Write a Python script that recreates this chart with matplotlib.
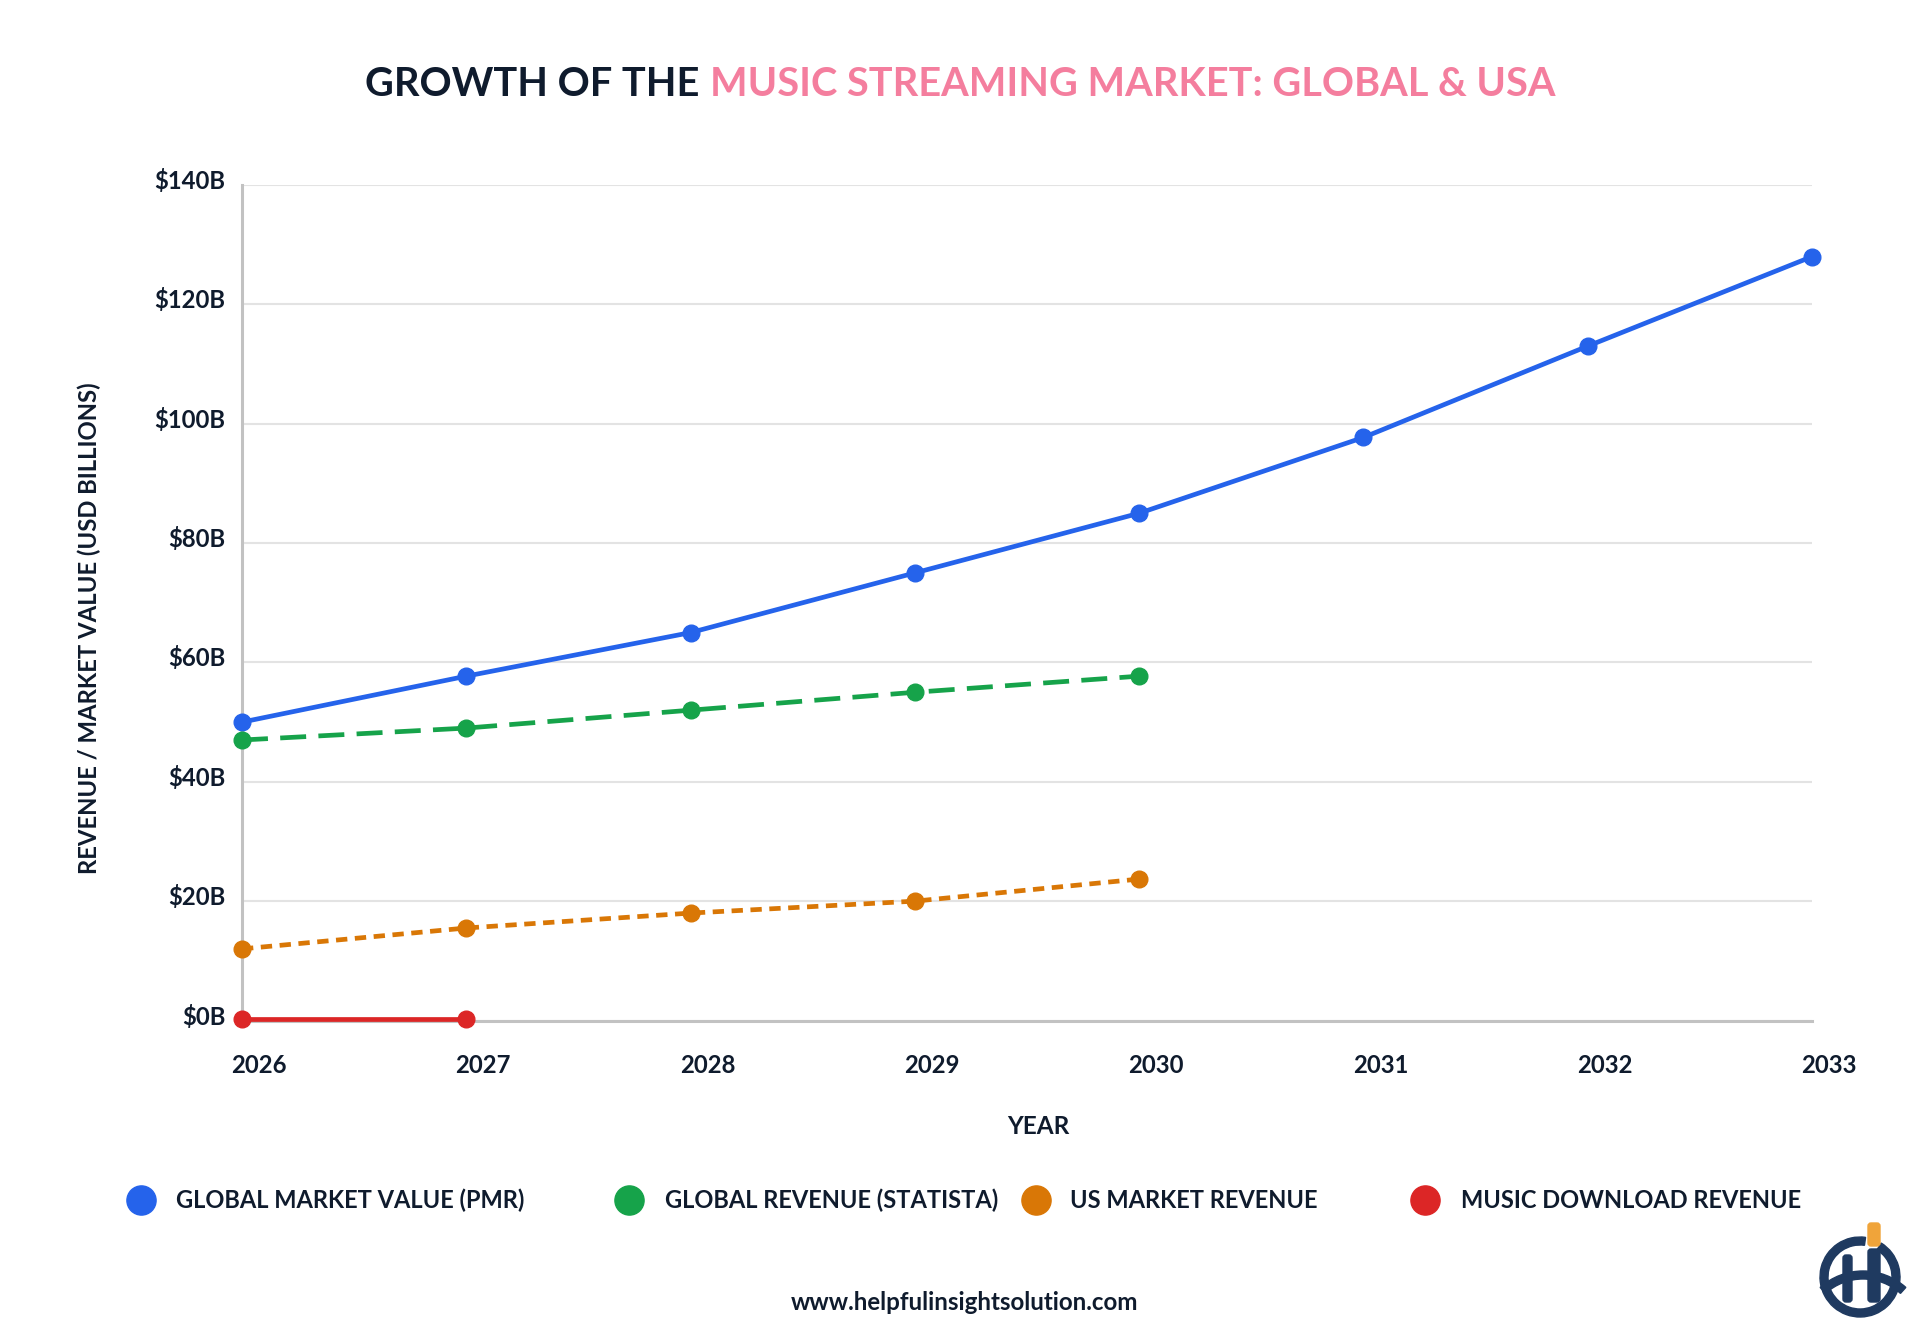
import matplotlib
matplotlib.use("Agg")
import matplotlib.pyplot as plt
import matplotlib.transforms as mtransforms
from matplotlib.lines import Line2D
from matplotlib import patches

# data (USD billions)
years = [2026, 2027, 2028, 2029, 2030, 2031, 2032, 2033]
global_pmr = [50, 57.7, 65, 75, 85, 97.7, 113, 128]
global_statista = [47, 49, 52, 55, 57.7]
us_market = [12, 15.5, 18, 20, 23.7]
downloads = [0.3, 0.3]
y_ticks = [0, 20, 40, 60, 80, 100, 120, 140]

series_names = ["GLOBAL MARKET VALUE (PMR)", "GLOBAL REVENUE (STATISTA)",
                "US MARKET REVENUE", "MUSIC DOWNLOAD REVENUE"]
colors = ["#2563eb", "#16a34a", "#d97706", "#dc2626"]
navy = "#0f1b2d"
pink = "#f47e9e"

plt.rcParams["font.family"] = ["Lato", "DejaVu Sans"]

W, H = 1930, 1344
fig = plt.figure(figsize=(W / 100, H / 100), dpi=100)
fig.patch.set_facecolor("white")


def fx(px):
    return px / W


def fy(py):
    return 1 - py / H


ax = fig.add_axes([fx(242), fy(1020.5), fx(1812 - 242), (1020.5 - 185) / H])

lw = 3.4
ax.plot(years, global_pmr, color=colors[0], lw=lw, marker="o", ms=12,
        clip_on=False, zorder=5)
ax.plot(years[:len(global_statista)], global_statista, color=colors[1], lw=lw,
        ls=(0, (5.5, 2.6)), marker="o", ms=12, clip_on=False, zorder=5)
ax.plot(years[:len(us_market)], us_market, color=colors[2], lw=lw,
        ls=(0, (2.4, 1.6)), marker="o", ms=12, clip_on=False, zorder=5)
ax.plot(years[:len(downloads)], downloads, color=colors[3], lw=lw,
        marker="o", ms=12, clip_on=False, zorder=6)

ax.set_xlim(years[0], years[-1])
ax.set_ylim(0, 140)
ax.set_xticks(years)
ax.set_yticks(y_ticks)
ax.set_yticklabels([f"${v}B" for v in y_ticks])

ax.grid(axis="y", color="#e3e3e3", lw=1.5)
ax.grid(axis="x", visible=False)
ax.set_axisbelow(True)
for side in ["top", "right"]:
    ax.spines[side].set_visible(False)
for side in ["left", "bottom"]:
    ax.spines[side].set_color("#c2c2c2")
    ax.spines[side].set_linewidth(2.2)
    ax.spines[side].set_zorder(1)

ax.tick_params(axis="both", length=0, labelsize=17.2, labelcolor=navy)
ax.tick_params(axis="x", pad=24)
ax.tick_params(axis="y", pad=12)
for lab in ax.get_xticklabels():
    lab.set_fontweight("bold")
    lab.set_transform(lab.get_transform() +
                      mtransforms.ScaledTranslation(0.17, 0, fig.dpi_scale_trans))
for lab in ax.get_yticklabels():
    lab.set_fontweight("bold")
    lab.set_transform(lab.get_transform() +
                      mtransforms.ScaledTranslation(0, 0.06, fig.dpi_scale_trans))

ax.set_xlabel("YEAR", fontsize=17.5, fontweight="bold", color=navy)
ax.xaxis.set_label_coords((1038 - 242) / 1570, -(1126 - 1020.5) / 835.5)
ax.xaxis.label.set_va("center")
ax.set_ylabel("REVENUE / MARKET VALUE (USD BILLIONS)", fontsize=17.2,
              fontweight="bold", color=navy)
ax.yaxis.set_label_coords((89 - 242) / 1570, (1020.5 - 628) / 835.5)
ax.yaxis.label.set_va("center")

# two-colour title, centred on the figure
renderer = fig.canvas.get_renderer()
t1 = fig.text(0, fy(84), "GROWTH OF THE", fontsize=28.6, fontweight="bold",
              color=navy, va="center", ha="left")
t2 = fig.text(0, fy(84), "MUSIC STREAMING MARKET: GLOBAL & USA", fontsize=28.6,
              fontweight="bold", color=pink, va="center", ha="left")
w1 = t1.get_window_extent(renderer).width
w2 = t2.get_window_extent(renderer).width
gap = 11
x0 = 960 - (w1 + gap + w2) / 2
t1.set_x(fx(x0))
t2.set_x(fx(x0 + w1 + gap))

# legend row
legend_dot_x = [141, 629, 1036, 1425]
legend_text_x = [176, 665, 1070, 1461]
for name, c, dx, tx in zip(series_names, colors, legend_dot_x, legend_text_x):
    fig.add_artist(Line2D([fx(dx)], [fy(1200)], marker="o", ms=21, color=c,
                          transform=fig.transFigure))
    fig.text(fx(tx), fy(1200), name, fontsize=17, fontweight="bold",
             color=navy, va="center", ha="left")

fig.text(fx(965), fy(1302), "www.helpfulinsightsolution.com", fontsize=17.4,
         fontweight="bold", color=navy, va="center", ha="center")

# small logo, bottom right
logo = fig.add_axes([fx(1800), fy(1337), fx(120), 120 / H])
logo.set_xlim(-60, 60)
logo.set_ylim(-60, 60)
logo.set_aspect("equal")
logo.axis("off")
logo_navy = "#1f3a60"
logo.add_patch(patches.Wedge((0, 0), 40, 82, 58 + 360, width=8, color=logo_navy))
logo.add_patch(patches.FancyBboxPatch((-17, -25), 9, 47, boxstyle="round,pad=0,rounding_size=3",
                                      color=logo_navy))
logo.add_patch(patches.FancyBboxPatch((8, -25), 12, 53, boxstyle="round,pad=0,rounding_size=3",
                                      color=logo_navy))
logo.add_patch(patches.FancyBboxPatch((8, 31), 12, 23, boxstyle="round,pad=0,rounding_size=3",
                                      color="#f0a43a"))
logo.add_patch(patches.Wedge((3, -58), 64, 48, 132, width=8, color=logo_navy))

fig.savefig("out.png", dpi=100, facecolor="white")
